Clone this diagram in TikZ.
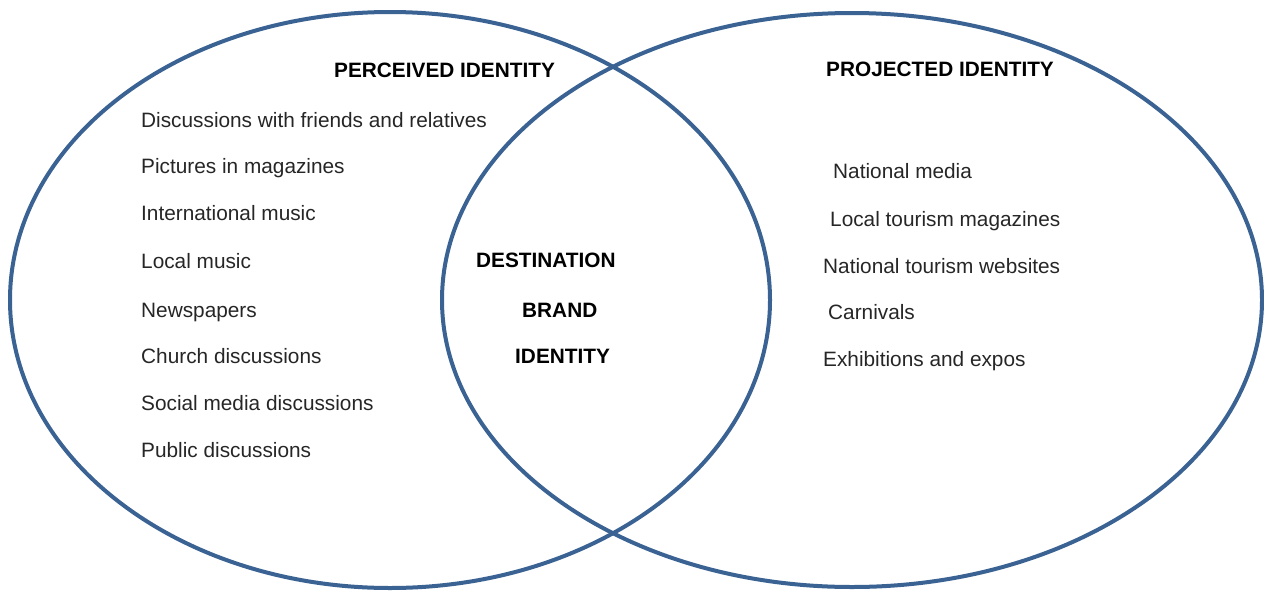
\documentclass[tikz,border=0pt]{standalone}
\usepackage{fontspec}
\setmainfont{Liberation Sans}
\definecolor{ringblue}{HTML}{3A6293}
\begin{document}
\begin{tikzpicture}[x=1pt,y=-1pt,
  ring/.style={draw=ringblue,line width=4pt},
  item/.style={anchor=base west,inner sep=0pt,font=\fontsize{20.8}{24}\selectfont,text=black!85},
  head/.style={anchor=base west,inner sep=0pt,font=\fontsize{20.8}{24}\selectfont\bfseries,text=black}]
\useasboundingbox (0,0) rectangle (1264,590);
\draw[ring] (390,300) ellipse [x radius=380, y radius=288];
\draw[ring] (852,300) ellipse [x radius=410, y radius=287];
\node[head] (perc) at (334,77) {PERCEIVED IDENTITY};
\node[head] (proj) at (826,76) {PROJECTED IDENTITY};
\node[item] (l1) at (141,127) {Discussions with friends and relatives};
\node[item] (l2) at (141,173) {Pictures in magazines};
\node[item] (l3) at (141,220) {International music};
\node[item] (l4) at (141,268) {Local music};
\node[item] (l5) at (141,317) {Newspapers};
\node[item] (l6) at (141,363) {Church discussions};
\node[item] (l7) at (141,410) {Social media discussions};
\node[item] (l8) at (141,457) {Public discussions};
\node[head] (c1) at (476,267) {DESTINATION};
\node[head] (c2) at (522,317) {BRAND};
\node[head] (c3) at (515,363) {IDENTITY};
\node[item] (r1) at (833,178) {National media};
\node[item] (r2) at (830,226) {Local tourism magazines};
\node[item] (r3) at (823,273) {National tourism websites};
\node[item] (r4) at (828,319) {Carnivals};
\node[item] (r5) at (823,366) {Exhibitions and expos};
\end{tikzpicture}
\end{document}
